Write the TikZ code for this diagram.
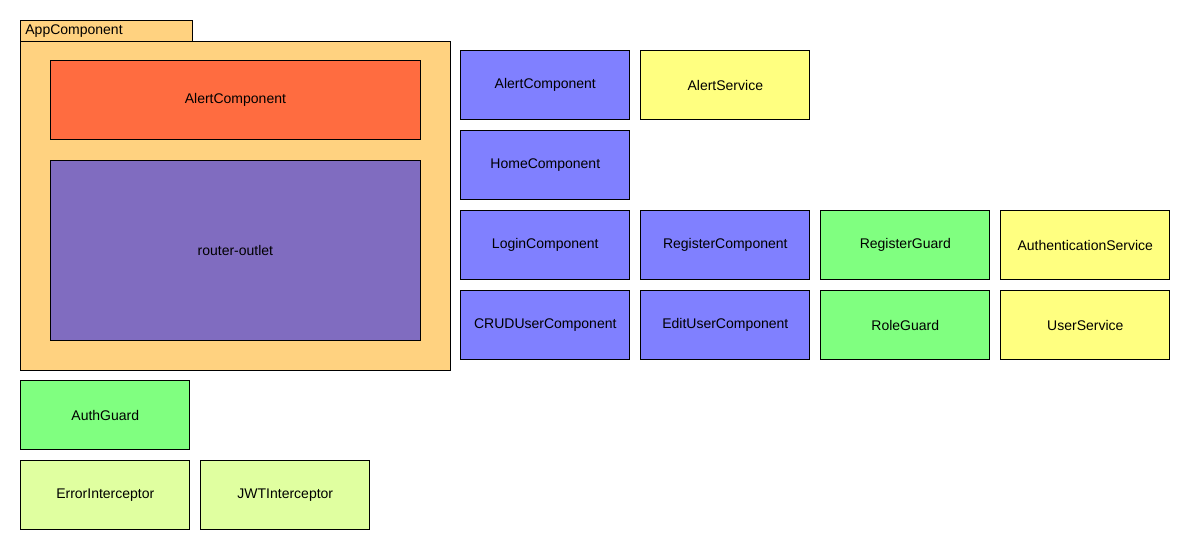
\documentclass[tikz,border=0pt]{standalone}
\usepackage{fontspec}
\setmainfont{Liberation Sans}
\definecolor{frameC}{RGB}{255,210,128}
\definecolor{redC}{RGB}{255,108,64}
\definecolor{purpC}{RGB}{128,108,192}
\definecolor{blueC}{RGB}{128,128,255}
\definecolor{yelC}{RGB}{255,255,128}
\definecolor{grnC}{RGB}{128,255,128}
\definecolor{lgC}{RGB}{224,255,160}
\begin{document}
\begin{tikzpicture}[x=1pt,y=-1pt,
  box/.style={draw=black,line width=0.8pt,inner sep=0pt,anchor=north west,font=\fontsize{14}{16}\selectfont},
]
\useasboundingbox (0,0) rectangle (1190,550);
\fill[white] (0,0) rectangle (1190,550);
\newcommand{\bx}[6]{\node[box,fill=#6,minimum width=#3pt-1pt,minimum height=#4pt-1pt] (#1) at (#2) {#5};}
% frame
\node[box,fill=frameC,minimum width=171.2pt,minimum height=20.2pt,text width=169pt,align=left] (tab) at (20.4,20.4) {\hspace*{3.5pt}AppComponent};
\node[box,fill=frameC,minimum width=429.2pt,minimum height=328.2pt] (app) at (20.4,41.4) {};
\node[box,fill=redC,minimum width=369.2pt,minimum height=78.2pt] (alert) at (50.4,60.4) {AlertComponent};
\node[box,fill=purpC,minimum width=369.2pt,minimum height=179.2pt] (router) at (50.4,160.4) {router-outlet};
% grid
\bx{ac}{460.4,50.4}{170}{70}{AlertComponent}{blueC}
\bx{as}{640.4,50.4}{170}{70}{AlertService}{yelC}
\bx{hc}{460.4,130.4}{170}{70}{HomeComponent}{blueC}
\bx{lc}{460.4,210.4}{170}{70}{LoginComponent}{blueC}
\bx{rc}{640.4,210.4}{170}{70}{RegisterComponent}{blueC}
\bx{rg}{820.4,210.4}{170}{70}{RegisterGuard}{grnC}
\bx{aus}{1000.4,210.4}{170}{70}{AuthenticationService}{yelC}
\bx{cc}{460.4,290.4}{170}{70}{CRUDUserComponent}{blueC}
\bx{ec}{640.4,290.4}{170}{70}{EditUserComponent}{blueC}
\bx{rog}{820.4,290.4}{170}{70}{RoleGuard}{grnC}
\bx{us}{1000.4,290.4}{170}{70}{UserService}{yelC}
\bx{ag}{20.4,380.4}{170}{70}{AuthGuard}{grnC}
\bx{ei}{20.4,460.4}{170}{70}{ErrorInterceptor}{lgC}
\bx{ji}{200.4,460.4}{170}{70}{JWTInterceptor}{lgC}
\end{tikzpicture}
\end{document}
